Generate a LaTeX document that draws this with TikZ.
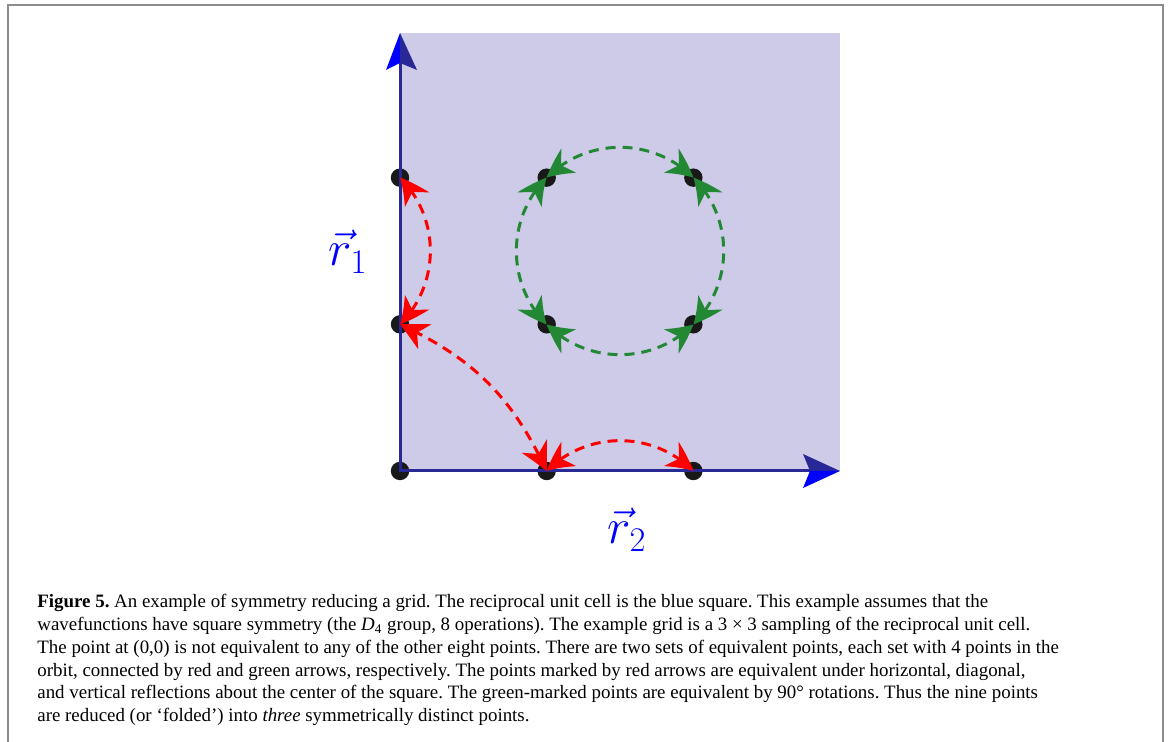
\documentclass[tikz,border=0pt]{standalone}
\usepackage{fontspec}
\setmainfont{Liberation Serif}
\usetikzlibrary{arrows.meta,bending}

\definecolor{cellfill}{RGB}{205,203,232}
\definecolor{axisnavy}{RGB}{40,40,150}
\definecolor{orbitgreen}{RGB}{34,136,51}
\definecolor{framegray}{RGB}{140,140,140}

\tikzset{
  orbit/.style={line width=1.5pt, dash pattern=on 5pt off 3.5pt,
    {Stealth[length=14pt,width=14pt,inset=4.5pt,bend]}-{Stealth[length=14pt,width=14pt,inset=4.5pt,bend]}},
  redorbit/.style={orbit, red},
  greenorbit/.style={orbit, orbitgreen},
  veclabel/.style={text=blue, font=\fontsize{25.5}{30}\selectfont},
}

\begin{document}
\begin{tikzpicture}[x=0.5pt,y=0.5pt]
  \useasboundingbox (0,0) rectangle (1170,742);
  % frame
  \draw[framegray, line width=1.3pt] (8,0)--(8,737)--(1163,737)--(1163,0);
  % reciprocal unit cell
  \fill[cellfill] (400,271) rectangle (840,709);
  % grid points
  \foreach \i in {0,1,2}
    \foreach \j in {0,1,2}
      \coordinate (p\i\j) at ({400+146.67*\i},{271+146.67*\j});
  \foreach \i in {0,1,2}
    \foreach \j in {0,1,2}
      \fill[black!90] (p\i\j) circle[radius=4.6pt];
  % axes
  \draw[axisnavy, line width=1.5pt] (400,679)--(p00)--(810,271);
  \fill[blue] (400,709)--(386,672)--(400,679)--cycle;
  \fill[axisnavy] (400,709)--(417,672)--(400,679)--cycle;
  \fill[axisnavy] (840,271)--(803,288)--(810,271)--cycle;
  \fill[blue] (840,271)--(803,254)--(810,271)--cycle;
  \node[veclabel] (rone) at (348,490) {$\vec{r}_1$};
  \node[veclabel] (rtwo) at (627,212) {$\vec{r}_2$};
  % red orbit
  \draw[redorbit] (p01) to[bend right=45] (p02);
  \draw[redorbit] (p10) to[bend right=20] (p01);
  \draw[redorbit] (p10) to[bend left=45] (p20);
  % green orbit
  \draw[greenorbit] (p11) to[bend right=45] (p21);
  \draw[greenorbit] (p21) to[bend right=45] (p22);
  \draw[greenorbit] (p22) to[bend right=45] (p12);
  \draw[greenorbit] (p12) to[bend right=45] (p11);
  % caption
  \node[anchor=north west, align=left, inner sep=0pt,
        font=\fontsize{9.45}{11.4}\selectfont\frenchspacing] (caption) at (37,148)
  {\textbf{Figure 5.} An example of symmetry reducing a grid. The reciprocal unit cell is the blue square. This example assumes that the\\
   wavefunctions have square symmetry (the \textit{D}\textsubscript{4} group, 8 operations). The example grid is a 3~×~3 sampling of the reciprocal unit cell.\\
   The point at (0,0) is not equivalent to any of the other eight points. There are two sets of equivalent points, each set with 4 points in the\\
   orbit, connected by red and green arrows, respectively. The points marked by red arrows are equivalent under horizontal, diagonal,\\
   and vertical reflections about the center of the square. The green-marked points are equivalent by 90° rotations. Thus the nine points\\
   are reduced (or `folded') into \textit{three} symmetrically distinct points.};
\end{tikzpicture}
\end{document}
